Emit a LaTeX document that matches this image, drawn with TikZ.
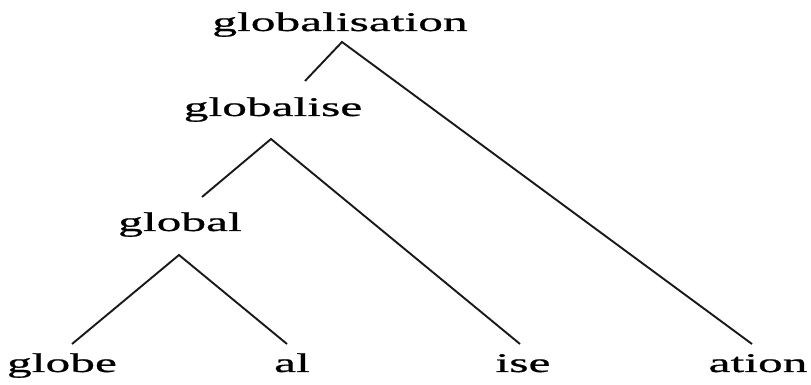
\documentclass[tikz,border=0pt]{standalone}
\usepackage{fontspec}
\setmainfont{Liberation Serif}
\newfontfamily\widefont[FakeStretch=1.83,FakeBold=0.8]{Liberation Serif}
\usetikzlibrary{calc}

\begin{document}
\begin{tikzpicture}[
    x=1pt, y=1pt,
    morph/.style={
      font=\widefont\fontsize{27}{30}\selectfont,
      inner sep=0pt,
      anchor=base
    },
    branch/.style={
      line width=1.9pt,
      black!90
    }
  ]
  \useasboundingbox (0,0) rectangle (811,385);

  % words, top to bottom
  \node[morph] (globalisation) at (340,354) {globalisation};
  \node[morph] (globalise) at (273,269) {globalise};
  \node[morph] (global) at (180,154) {global};

  % leaves
  \node[morph] (globe) at (62,13) {globe};
  \node[morph] (al) at (292,13) {al};
  \node[morph] (ise) at (523,13) {ise};
  \node[morph] (ation) at (758,13) {ation};

  % split points under each word
  \coordinate (splitA) at ($(globalisation.base)+(2,-11)$);
  \coordinate (splitB) at ($(globalise.base)+(-2,-23)$);
  \coordinate (splitC) at ($(global.base)+(-1,-24)$);

  % line ends above the daughters
  \coordinate (globaliseTop) at ($(globalise.base)+(32,35)$);
  \coordinate (globalTop) at ($(global.base)+(22,34)$);
  \coordinate (globeTop) at ($(globe.base)+(10,28)$);
  \coordinate (alTop) at ($(al.base)+(-5,28)$);
  \coordinate (iseTop) at ($(ise.base)+(-3,28)$);
  \coordinate (ationTop) at ($(ation.base)+(-6,28)$);

  \draw[branch] (globaliseTop) -- (splitA) -- (ationTop);
  \draw[branch] (globalTop) -- (splitB) -- (iseTop);
  \draw[branch] (globeTop) -- (splitC) -- (alTop);

\end{tikzpicture}
\end{document}
